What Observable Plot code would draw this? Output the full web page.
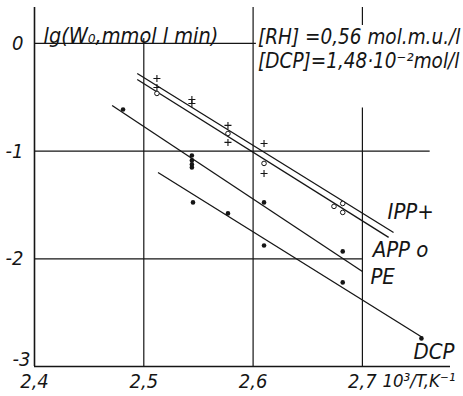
<!DOCTYPE html>
<html><head><meta charset="utf-8">
<script src="https://cdn.jsdelivr.net/npm/d3@7"></script>
<script src="https://cdn.jsdelivr.net/npm/@observablehq/plot@0.6"></script>
<style>
html,body{margin:0;padding:0;background:#fff;}
#chart svg{display:block;}
</style></head><body><div id="chart"></div>
<script>
// ---- data ----
const xTicks = [2.4, 2.5, 2.6, 2.7];
const yTicks = [0, -1, -2, -3];

const ippX = [2.512, 2.512, 2.544, 2.544, 2.577, 2.577, 2.610, 2.610];
const ippY = [-0.325, -0.409, -0.520, -0.557, -0.761, -0.919, -0.929, -1.207];
const appX = [2.512, 2.577, 2.610, 2.682, 2.674, 2.682];
const appY = [-0.464, -0.836, -1.114, -1.486, -1.513, -1.569];
const peX  = [2.481, 2.544, 2.544, 2.544, 2.544, 2.610, 2.682];
const peY  = [-0.613, -1.040, -1.086, -1.123, -1.151, -1.476, -1.931];
const dcpX = [2.545, 2.577, 2.610, 2.682, 2.754];
const dcpY = [-1.476, -1.578, -1.876, -2.219, -2.739];

// fitted straight lines: start / end
const seriesNames = ["IPP", "APP", "PE", "DCP"];
const lineX1 = [2.494, 2.494, 2.471, 2.513];
const lineY1 = [-0.279, -0.334, -0.576, -1.198];
const lineX2 = [2.7285, 2.724, 2.700, 2.755];
const lineY2 = [-1.755, -1.801, -2.117, -2.730];
const seriesLabels = ["IPP+", "APP o", "PE", "DCP"];

const yTitle = "lg(W\u2080,mmol l min)";
const xTitle = "10\u00B3/T,K\u207B\u00B9";
const note1 = "[RH] =0,56 mol.m.u./l";
const note2 = "[DCP]=1,48\u00B710\u207B\u00B2mol/l";

// ---- build tables ----
const pts = (xs, ys) => xs.map((x, i) => ({x, y: ys[i]}));
const ipp = pts(ippX, ippY), app = pts(appX, appY), pe = pts(peX, peY), dcp = pts(dcpX, dcpY);
const lines = seriesNames.map((s, i) => ({s, x1: lineX1[i], y1: lineY1[i], x2: lineX2[i], y2: lineY2[i], label: seriesLabels[i]}));
const fmt = d => String(d).replace(".", ",");

// label offsets (style)
const labelOff = {IPP: [-6, -20], APP: [-16, 13], PE: [8, 6], DCP: [-9, 15]};
// grid extents (style)
const XMAX = 2.7806, YMAX = 0.334;
const gridV = [
  {x: 2.5, y1: -3, y2: 0.046},
  {x: 2.6, y1: -3, y2: YMAX},
  {x: 2.7, y1: -3, y2: -0.60},
  {x: 2.7, y1: 0.167, y2: YMAX}
];
const gridH = [
  {y: 0, x1: 2.4, x2: 2.603},
  {y: -1, x1: 2.4, x2: 2.762},
  {y: -2, x1: 2.4, x2: 2.7}
];

const FONT = "'Liberation Sans Narrow', 'DejaVu Sans Condensed', 'Liberation Sans', sans-serif";
const ink = "#151515";
const it = {fontStyle: "italic", fill: ink};

const plot = Plot.plot({
  width: 463, height: 396,
  marginLeft: 34, marginRight: 13, marginTop: 7, marginBottom: 30,
  x: {domain: [2.4, XMAX], axis: null},
  y: {domain: [-3, YMAX], axis: null},
  style: {fontFamily: FONT, background: "white", color: ink},
  marks: [
    Plot.ruleX(gridV, {x: "x", y1: "y1", y2: "y2", stroke: ink, strokeWidth: 1.2}),
    Plot.ruleY(gridH, {y: "y", x1: "x1", x2: "x2", stroke: ink, strokeWidth: 1.2}),
    Plot.ruleX([2.4], {y1: -3, y2: YMAX, stroke: ink, strokeWidth: 1.6}),
    Plot.ruleY([-3], {x1: 2.4, x2: XMAX, stroke: ink, strokeWidth: 1.6}),
    Plot.link(lines, {x1: "x1", y1: "y1", x2: "x2", y2: "y2", stroke: ink, strokeWidth: 1.3}),
    Plot.dot(ipp, {x: "x", y: "y", symbol: "plus", r: 2.4, stroke: ink, strokeWidth: 1.1}),
    Plot.dot(app, {x: "x", y: "y", symbol: "circle", r: 2.3, stroke: ink, fill: "white", strokeWidth: 1}),
    Plot.dot(pe, {x: "x", y: "y", r: 2.3, fill: ink, stroke: "none"}),
    Plot.dot(dcp, {x: "x", y: "y", r: 2.3, fill: ink, stroke: "none"}),
    // series labels
    ...lines.map(l => Plot.text([l], {x: "x2", y: "y2", text: "label", textAnchor: "start",
      dx: labelOff[l.s][0], dy: labelOff[l.s][1], fontSize: 22, ...it})),
    // tick labels
    Plot.text(xTicks, {x: d => d, y: -3, text: fmt, dy: 15, fontSize: 20, ...it}),
    Plot.text(yTicks.filter(d => d !== -3), {x: 2.4, y: d => d, text: fmt, dx: -11, textAnchor: "end", fontSize: 20, ...it}),
    Plot.text(yTicks.filter(d => d === -3), {x: 2.4, y: d => d, text: fmt, dx: -4, dy: -7, textAnchor: "end", fontSize: 20, ...it}),
    // titles
    Plot.text([xTitle], {x: 2.7, y: -3, text: d => d, dx: 20, dy: 15, textAnchor: "start", fontSize: 18.5, ...it}),
    Plot.text([yTitle], {frameAnchor: "top-left", text: d => d, dx: 9, dy: 20, textAnchor: "start", fontSize: 21.5, ...it}),
    Plot.text([note1], {x: 2.6, y: 0, text: d => d, dx: 5, dy: -6, textAnchor: "start", fontSize: 20.5, ...it}),
    Plot.text([note2], {x: 2.6, y: 0, text: d => d, dx: 5, dy: 18, textAnchor: "start", fontSize: 20.5, ...it})
  ]
});
document.getElementById("chart").appendChild(plot);
</script>
</body></html>
